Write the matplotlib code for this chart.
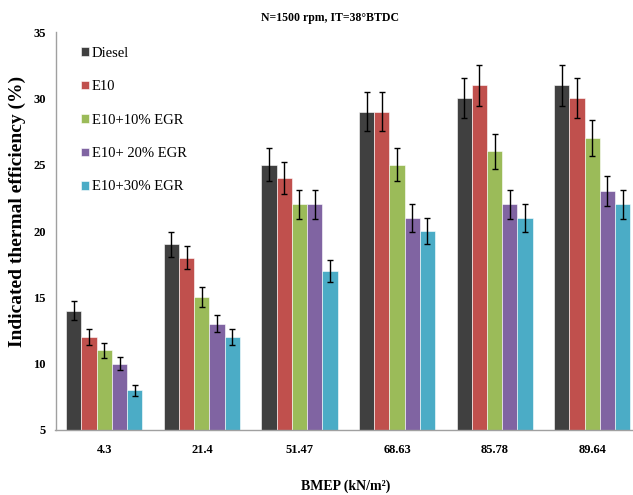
import matplotlib
matplotlib.use("Agg")
import matplotlib.pyplot as plt
import numpy as np

plt.rcParams['font.family'] = ['Liberation Serif', 'DejaVu Serif']

categories = ["4.3", "21.4", "51.47", "68.63", "85.78", "89.64"]
series_names = ["Diesel", "E10", "E10+10% EGR", "E10+ 20% EGR", "E10+30% EGR"]
diesel = [14, 19, 25, 29, 30, 31]
e10 = [12, 18, 24, 29, 31, 30]
e10_10 = [11, 15, 22, 25, 26, 27]
e10_20 = [10, 13, 22, 21, 22, 23]
e10_30 = [8, 12, 17, 20, 21, 22]
err_diesel = [0.70, 0.95, 1.25, 1.45, 1.50, 1.55]
err_e10 = [0.60, 0.90, 1.20, 1.45, 1.55, 1.50]
err_e10_10 = [0.55, 0.75, 1.10, 1.25, 1.30, 1.35]
err_e10_20 = [0.50, 0.65, 1.10, 1.05, 1.10, 1.15]
err_e10_30 = [0.40, 0.60, 0.85, 1.00, 1.05, 1.10]
colors = ["#404040", "#C0504D", "#9BBB59", "#8064A2", "#4BACC6"]

values = [diesel, e10, e10_10, e10_20, e10_30]
errors = [err_diesel, err_e10, err_e10_10, err_e10_20, err_e10_30]

fig = plt.figure(figsize=(6.33, 4.95), dpi=100)
ax = fig.add_axes([55.5/633, 1-430/495, 585.5/633, 398/495])

x = np.arange(len(categories))
w = 0.156
for i, (vals, errs, c, name) in enumerate(zip(values, errors, colors, series_names)):
    pos = x + (i - 2) * w
    ax.bar(pos, vals, width=w, bottom=0, color=c, edgecolor='white', linewidth=0.4, label=name, zorder=2)
    ax.errorbar(pos, vals, yerr=errs, fmt='none', ecolor='black', elinewidth=1.0, capsize=2.5, capthick=1.0, zorder=3)

ax.set_ylim(5, 35)
ax.set_xlim(-0.5, len(categories) - 0.5)
ax.set_yticks([5, 10, 15, 20, 25, 30, 35])
ax.set_xticks(x)
ax.set_xticklabels(categories)
ax.tick_params(axis='both', length=0, labelsize=9)
ax.tick_params(axis='y', pad=7)
ax.tick_params(axis='x', pad=10)
for lab in ax.get_xticklabels() + ax.get_yticklabels():
    lab.set_fontweight('bold')

for s in ['top', 'right']:
    ax.spines[s].set_visible(False)
for s in ['left', 'bottom']:
    ax.spines[s].set_color('#A0A0A0')
    ax.spines[s].set_linewidth(1.0)

fig.text(17/633, 1-211/495, "Indicated thermal efficiency (%)", rotation=90, ha='center', va='center',
         fontsize=14, fontweight='bold')
fig.text(346/633, 1-486/495, "BMEP (kN/m²)", ha='center', va='center', fontsize=10, fontweight='bold')
fig.text(330/633, 1-18/495, "N=1500 rpm, IT=38°BTDC", ha='center', va='center', fontsize=8.5, fontweight='bold')

leg = ax.legend(loc='upper left', bbox_to_anchor=(75/633, 1-41/495), bbox_transform=fig.transFigure,
                frameon=False, fontsize=10.5, labelspacing=1.4, handlelength=0.55, handleheight=0.55,
                handletextpad=0.2, borderaxespad=0)

fig.savefig("out.png", dpi=100)
